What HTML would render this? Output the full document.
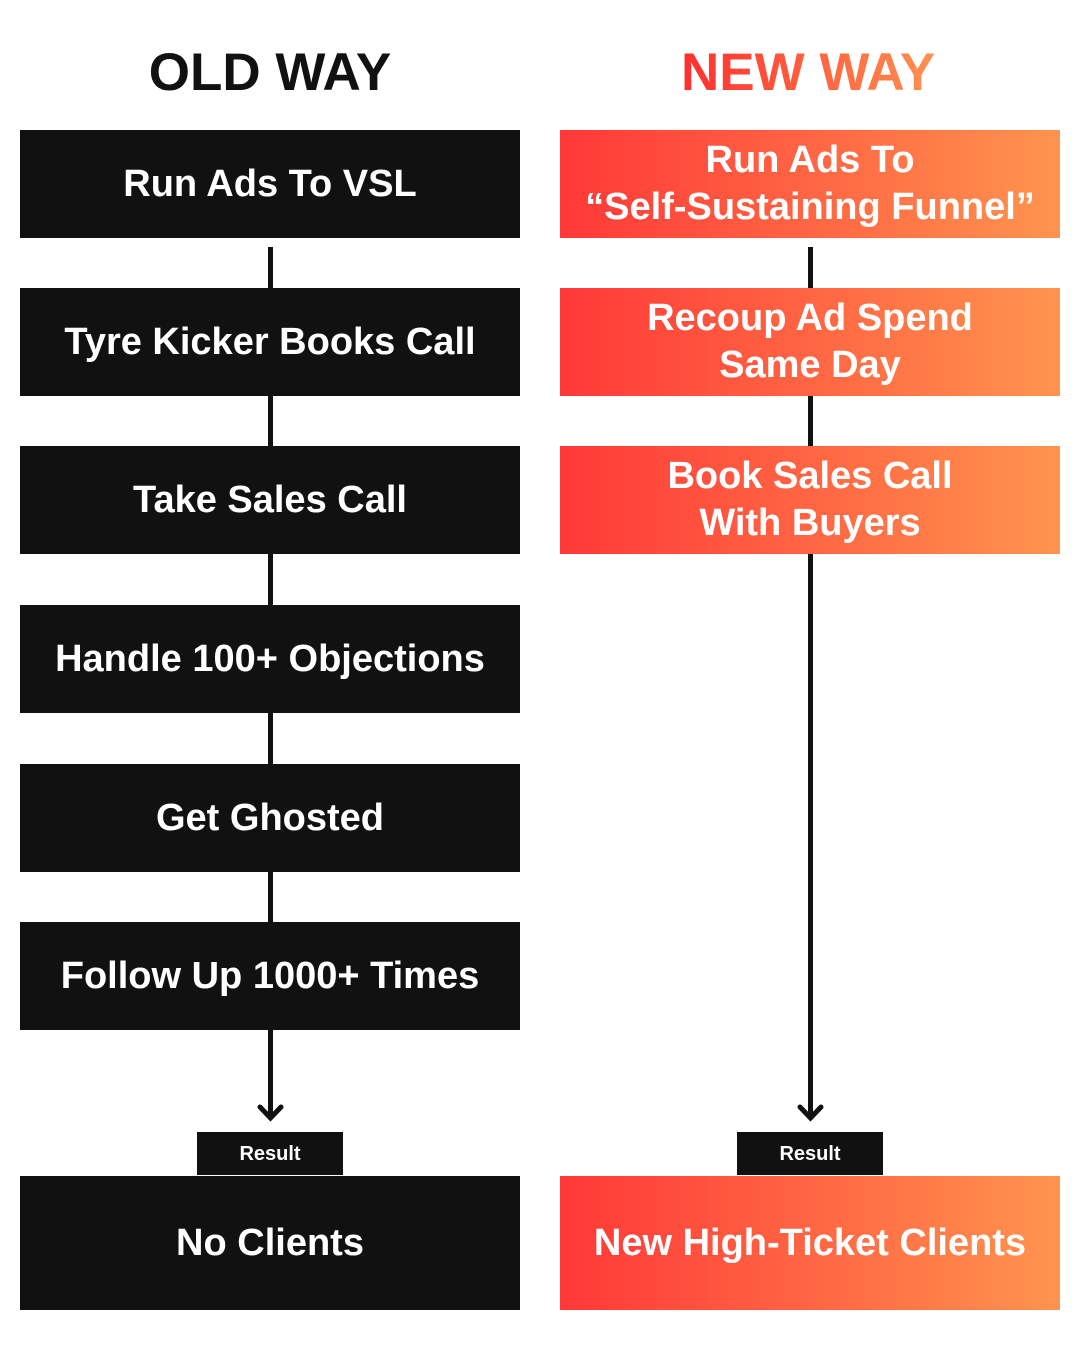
<!DOCTYPE html>
<html><head><meta charset="utf-8"><style>
body{margin:0;width:1080px;height:1350px;background:#fff;position:relative;font-family:"Liberation Sans",sans-serif;overflow:hidden}
.b{position:absolute;width:500px;height:108px;display:flex;align-items:center;justify-content:center;text-align:center;color:#fff;font-weight:bold;font-size:38px;line-height:47px}
.k{background:#111;left:20px}
.g{left:560px;background:linear-gradient(90deg,#ff3838,#ff6a44 55%,#ff944f)}
.t{position:absolute;top:42px;font-weight:bold;font-size:53px;text-align:center;width:500px}
.r{position:absolute;top:1132px;width:146px;height:43px;background:#111;color:#fff;font-weight:bold;font-size:20px;display:flex;align-items:center;justify-content:center;padding-top:1px;box-sizing:border-box}
.l{position:absolute;width:5px;background:#111}
</style></head><body>
<div class="t" style="left:20px;color:#111">OLD WAY</div>
<div class="t" style="background:linear-gradient(90deg,#ff2f2f,#ff9150);-webkit-background-clip:text;background-clip:text;color:transparent;width:auto;left:681px">NEW WAY</div>
<div class="l" style="left:268px;top:247px;height:871px"></div>
<div class="l" style="left:808px;top:247px;height:871px"></div>
<svg style="position:absolute;left:0;top:0" width="1080" height="1350"><g fill="none" stroke="#111" stroke-width="5" stroke-linecap="round"><path d="M260 1107 L270.5 1118 L281 1107"/><path d="M800 1107 L810.5 1118 L821 1107"/></g></svg>
<div class="b k" style="top:130px">Run Ads To VSL</div>
<div class="b k" style="top:288px">Tyre Kicker Books Call</div>
<div class="b k" style="top:446px">Take Sales Call</div>
<div class="b k" style="top:605px">Handle 100+ Objections</div>
<div class="b k" style="top:764px">Get Ghosted</div>
<div class="b k" style="top:922px">Follow Up 1000+ Times</div>
<div class="b k" style="top:1176px;height:134px">No Clients</div>
<div class="b g" style="top:130px">Run Ads To<br>“Self-Sustaining Funnel”</div>
<div class="b g" style="top:288px">Recoup Ad Spend<br>Same Day</div>
<div class="b g" style="top:446px">Book Sales Call<br>With Buyers</div>
<div class="b g" style="top:1176px;height:134px">New High-Ticket Clients</div>
<div class="r" style="left:197px">Result</div>
<div class="r" style="left:737px">Result</div>
</body></html>
